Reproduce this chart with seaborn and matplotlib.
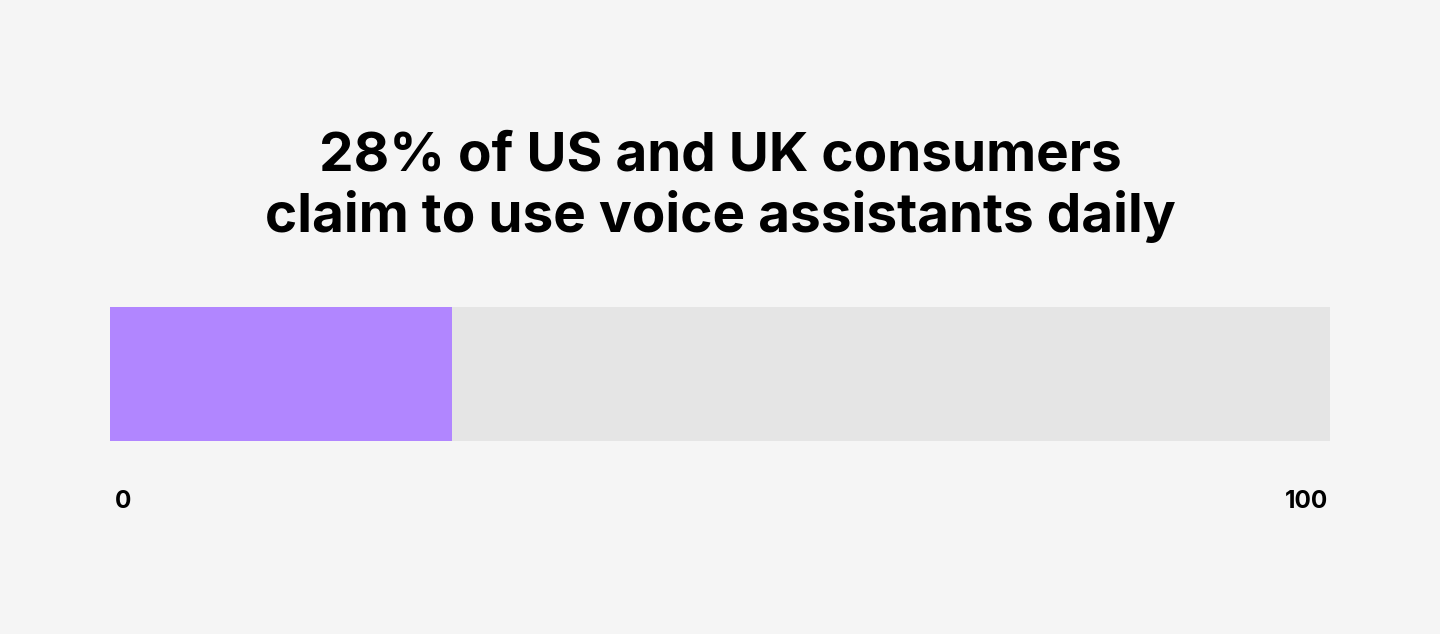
import matplotlib
matplotlib.use("Agg")
import matplotlib.pyplot as plt
import matplotlib.transforms as mtransforms
import seaborn as sns
import pandas as pd

# Data
categories = ["US and UK consumers"]
share_daily = [28]
scale_max = [100]
tick_values = [0, 100]
tick_labels = ["0", "100"]
title_text = "28% of US and UK consumers\nclaim to use voice assistants daily"

BG = "#f5f5f5"
TRACK = "#e5e5e5"
PURPLE = "#b186ff"

sns.set_theme(style="white")
plt.rcParams["font.family"] = ["Inter", "DejaVu Sans"]

fig = plt.figure(figsize=(14.4, 6.34), dpi=100, facecolor=BG)
ax = fig.add_axes([110 / 1440, (634 - 441) / 634, 1220 / 1440, 134 / 634])
ax.set_facecolor(BG)

df_track = pd.DataFrame({"cat": categories, "val": scale_max})
df_val = pd.DataFrame({"cat": categories, "val": share_daily})

sns.barplot(data=df_track, x="val", y="cat", orient="h", color=TRACK,
            width=1.0, saturation=1, ax=ax, linewidth=0)
sns.barplot(data=df_val, x="val", y="cat", orient="h", color=PURPLE,
            width=1.0, saturation=1, ax=ax, linewidth=0)

ax.set_xlim(0, 100)
ax.set_ylim(0.5, -0.5)
ax.set_yticks([])
ax.set_xlabel("")
ax.set_ylabel("")
for s in ax.spines.values():
    s.set_visible(False)

ax.set_xticks(tick_values)
ax.set_xticklabels(tick_labels, fontsize=17.5, fontweight="bold", color="#000000")
ax.tick_params(axis="x", length=0, pad=35)
lbls = ax.get_xticklabels()
lbls[0].set_ha("left")
lbls[1].set_ha("right")
lbls[0].set_transform(lbls[0].get_transform() + mtransforms.ScaledTranslation(5 / 100, 0, fig.dpi_scale_trans))
lbls[1].set_transform(lbls[1].get_transform() + mtransforms.ScaledTranslation(-2 / 100, 0, fig.dpi_scale_trans))

fig.text(0.5, 1 - 187 / 634, title_text, ha="center", va="center",
         fontsize=39.5, fontweight="bold", color="#000000", linespacing=1.2)

fig.savefig("out.png", dpi=100, facecolor=BG)
